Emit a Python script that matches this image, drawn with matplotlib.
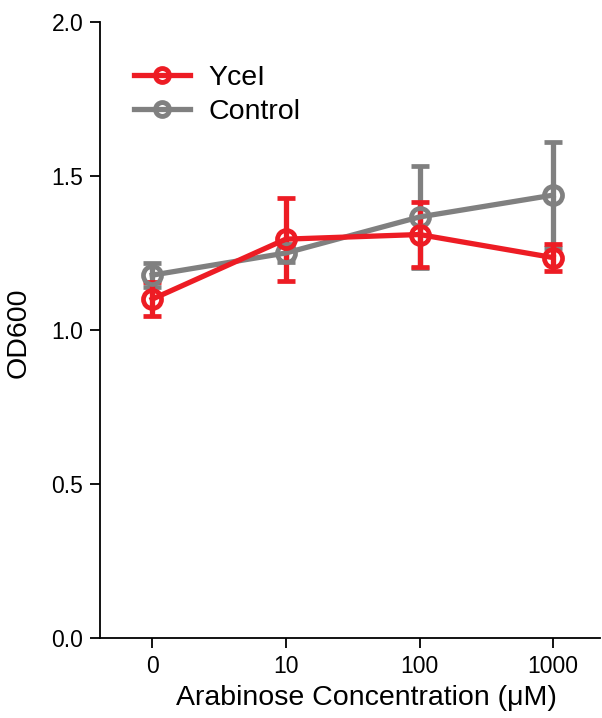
import numpy as np
import matplotlib.pyplot as plt
from matplotlib.lines import Line2D

plt.rcParams['font.family'] = ['Liberation Sans', 'DejaVu Sans']

conc_labels = ['0', '10', '100', '1000']
ycel_mean = [1.10, 1.295, 1.31, 1.235]
ycel_err = [0.055, 0.135, 0.107, 0.043]
ctrl_mean = [1.178, 1.25, 1.367, 1.438]
ctrl_err = [0.04, 0.03, 0.165, 0.173]

red = '#ed1c24'
grey = '#808080'

fig = plt.figure(figsize=(6.02, 7.18), dpi=100)
ax = fig.add_axes([100/602, 80/718, 500/602, 616/718])

xx = np.arange(len(conc_labels))
for mean, err, col in [(ctrl_mean, ctrl_err, grey), (ycel_mean, ycel_err, red)]:
    ax.errorbar(xx, mean, yerr=err, color=col, lw=3.8, elinewidth=3.8,
                capsize=6.5, capthick=3.8, marker='o', ms=13, mfc='none',
                mew=3.4)

ax.set_xlim(-0.39, 3.35)
ax.set_ylim(0, 2.0)
ax.set_yticks([0, 0.5, 1.0, 1.5, 2.0])
ax.set_yticklabels(['0.0', '0.5', '1.0', '1.5', '2.0'])
ax.set_xticks(xx)
ax.set_xticklabels(conc_labels)
ax.tick_params(direction='out', length=7, width=1.3, labelsize=16.5, pad=5)
ax.spines['top'].set_visible(False)
ax.spines['right'].set_visible(False)
ax.spines['left'].set_linewidth(1.3)
ax.spines['bottom'].set_linewidth(1.3)

ax.set_xlabel('Arabinose Concentration (μM)', fontsize=20.5)
ax.set_ylabel('OD600', fontsize=20.5)
ax.xaxis.set_label_coords(0.532, -0.076)
ax.yaxis.set_label_coords(-0.136, 0.495)

# legend shows only line + marker, no error bars
handles = [Line2D([], [], color=red, lw=3.8, marker='o', ms=10, mfc='none', mew=3.5),
           Line2D([], [], color=grey, lw=3.8, marker='o', ms=10, mfc='none', mew=3.5)]
ax.legend(handles, ['YceI', 'Control'], loc='upper left', bbox_to_anchor=(0.017, 0.972),
          frameon=False, fontsize=20.5, handlelength=1.95, labelspacing=0.28,
          handletextpad=0.65)

plt.savefig('out.png', dpi=100)
